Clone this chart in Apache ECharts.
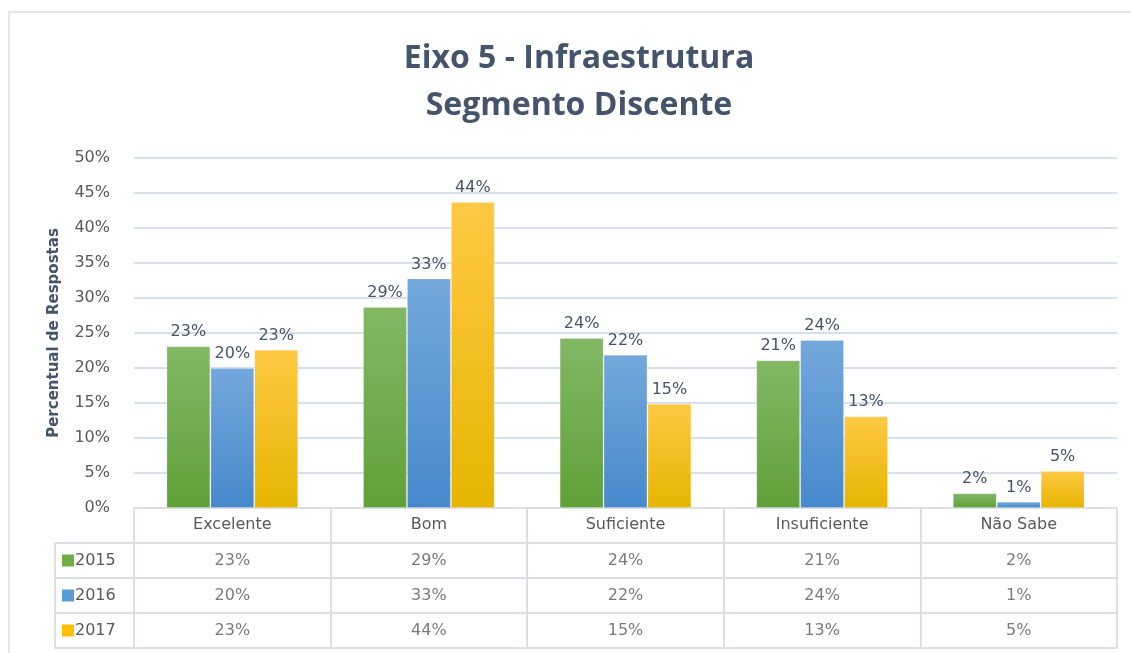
<!DOCTYPE html>
<html>
<head>
<meta charset="utf-8">
<script src="https://cdn.jsdelivr.net/npm/echarts@6/dist/echarts.min.js"></script>
<style>
  html, body { margin: 0; padding: 0; background: #fff; }
  #frame { position: absolute; left: 8px; top: 11px; right: 0; bottom: 0; border-left: 2px solid #e3e6eb; border-top: 2px solid #e3e6eb; }
  #chart { position: absolute; left: 0; top: 0; width: 1131px; height: 653px; }
</style>
</head>
<body>
<div id="frame"></div>
<div id="chart"></div>
<script>
const categories = ['Excelente', 'Bom', 'Suficiente', 'Insuficiente', 'Não Sabe'];
const years = ['2015', '2016', '2017'];
const values2015 = [23.1, 28.7, 24.3, 21.1, 2.1];
const values2016 = [20.0, 32.8, 21.9, 24.0, 0.9];
const values2017 = [22.6, 43.7, 14.9, 13.1, 5.3];
const yTicks = [0, 5, 10, 15, 20, 25, 30, 35, 40, 45, 50];

const seriesValues = [values2015, values2016, values2017];
const flatColors = ['#70ad47', '#5b9bd5', '#ffc000'];
const gradients = [
  ['#82b865', '#60a038'],
  ['#74a8dc', '#4689cb'],
  ['#ffc844', '#e6b500']
];
const textColor = '#595959';
const labelColor = '#44546a';
const lineColor = '#dcdfe5';
const smallFont = 'DejaVu Sans';

const chart = echarts.init(document.getElementById('chart'));

const barSeries = years.map((y, i) => ({
  name: y,
  type: 'bar',
  xAxisIndex: 0,
  yAxisIndex: 0,
  data: seriesValues[i],
  barGap: '0%',
  barCategoryGap: '33%',
  itemStyle: {
    color: new echarts.graphic.LinearGradient(0, 0, 0, 1, [
      { offset: 0, color: gradients[i][0] },
      { offset: 1, color: gradients[i][1] }
    ]),
    borderColor: 'rgba(255,255,255,0.2)',
    borderWidth: 1
  },
  label: {
    show: true,
    position: 'top',
    distance: 6,
    color: labelColor,
    fontSize: 16,
    fontFamily: smallFont,
    formatter: p => Math.round(p.value) + '%'
  }
}));

// cells of the data table
const tableCells = [];
seriesValues.forEach((vals, r) => vals.forEach((v, c) => tableCells.push([c, r, v])));

const option = {
  animation: false,
  backgroundColor: 'transparent',
  textStyle: { fontFamily: smallFont },
  title: {
    text: 'Eixo 5 - Infraestrutura\nSegmento Discente',
    left: 574,
    top: 30,
    textAlign: 'center',
    textStyle: {
      fontFamily: 'Open Sans',
      fontSize: 32,
      fontWeight: 'bold',
      color: '#44546a',
      lineHeight: 47
    }
  },
  grid: [
    { left: 134, right: 14, top: 158, bottom: 145 },
    { left: 134, right: 14, top: 543, height: 105 }
  ],
  xAxis: [
    {
      type: 'category',
      gridIndex: 0,
      data: categories,
      axisLine: { show: true, lineStyle: { color: lineColor, width: 2 } },
      axisTick: { show: true, length: 140, interval: 0, lineStyle: { color: lineColor, width: 2 } },
      axisLabel: { color: textColor, fontSize: 16, margin: 9, interval: 0 }
    },
    {
      type: 'category',
      gridIndex: 1,
      data: categories,
      axisLine: { show: false },
      axisTick: { show: false },
      axisLabel: { show: false }
    }
  ],
  yAxis: [
    {
      type: 'value',
      gridIndex: 0,
      min: yTicks[0],
      max: yTicks[yTicks.length - 1],
      interval: yTicks[1] - yTicks[0],
      name: 'Percentual de Respostas',
      nameLocation: 'middle',
      nameGap: 72,
      nameTextStyle: { color: '#44546a', fontSize: 15, fontWeight: 'bold', fontFamily: smallFont },
      axisLine: { show: false },
      axisTick: { show: false },
      axisLabel: { color: textColor, fontSize: 16, margin: 24, formatter: '{value}%' },
      splitLine: { lineStyle: { color: '#c8d4ea', width: 1.5 } }
    },
    {
      type: 'category',
      gridIndex: 1,
      data: years,
      inverse: true,
      axisLine: { show: false },
      axisTick: { show: true, length: 79, interval: 0, lineStyle: { color: lineColor, width: 2 } },
      splitLine: { show: true, interval: 0, lineStyle: { color: lineColor, width: 2 } },
      axisLabel: {
        align: 'left',
        margin: 72,
        formatter: (v, i) => '{s' + i + '|}{t|' + v + '}',
        rich: {
          s0: { width: 12, height: 12, backgroundColor: flatColors[0] },
          s1: { width: 12, height: 12, backgroundColor: flatColors[1] },
          s2: { width: 12, height: 12, backgroundColor: flatColors[2] },
          t: { color: textColor, fontSize: 16, padding: [0, 0, 0, 1] }
        }
      }
    },
    {
      type: 'category',
      gridIndex: 1,
      data: years,
      inverse: true,
      position: 'left',
      offset: 79,
      axisLine: { show: true, lineStyle: { color: lineColor, width: 2 } },
      axisTick: { show: false },
      axisLabel: { show: false }
    }
  ],
  series: barSeries.concat([{
    type: 'scatter',
    xAxisIndex: 1,
    yAxisIndex: 1,
    symbolSize: 0,
    data: tableCells,
    label: {
      show: true,
      position: 'inside',
      color: textColor,
      fontSize: 16,
      formatter: p => Math.round(p.value[2]) + '%'
    }
  }])
};

chart.setOption(option);
window.addEventListener('resize', () => chart.resize());
</script>
</body>
</html>
